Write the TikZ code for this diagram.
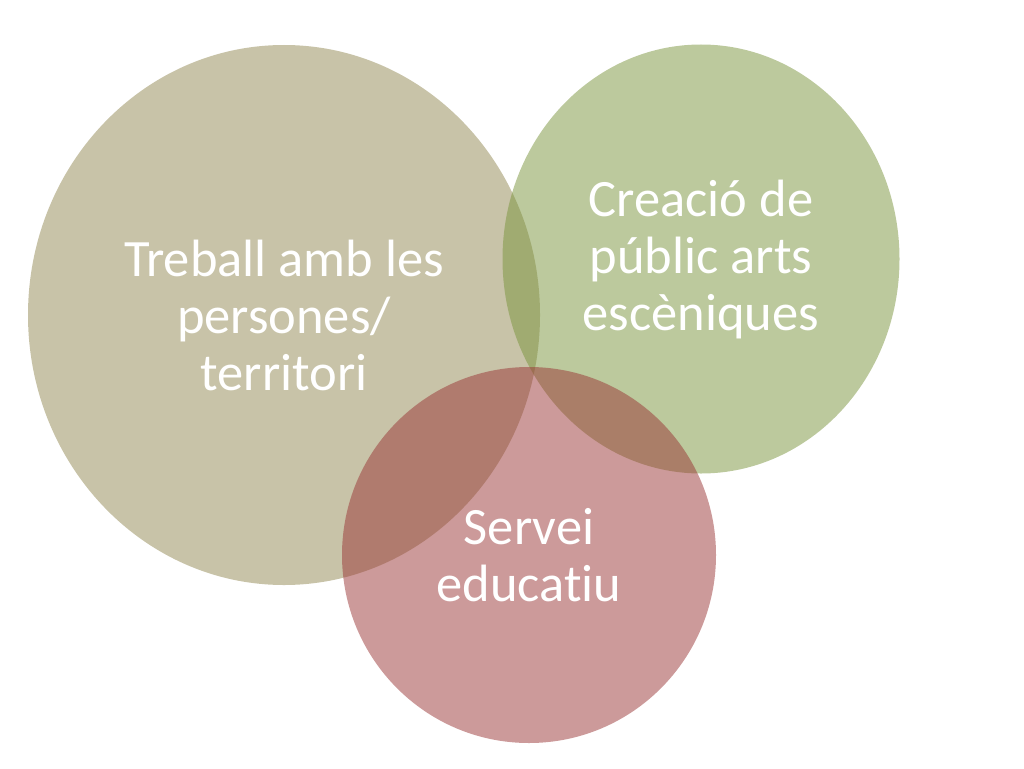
\documentclass[tikz,border=0pt]{standalone}
\usepackage{fontspec}
\setmainfont[Ligatures={NoCommon}]{Carlito}
\usepackage{tikz}
\usetikzlibrary{positioning,shapes.geometric}

\definecolor{tanfill}{RGB}{145,135,81}
\definecolor{greenfill}{RGB}{121,147,59}
\definecolor{pinkfill}{RGB}{153,53,53}

\begin{document}
\begin{tikzpicture}[
    x=1pt, y=-1pt,
    disc/.style={ellipse, draw=none, fill opacity=0.5, text opacity=1, inner sep=0pt, align=center, text=white, font=\fontsize{52.5}{57}\selectfont}
]
\useasboundingbox (0,0) rectangle (1024,768);

% Circles
\node[disc, fill=tanfill, minimum width=512pt, minimum height=540pt] (treball) at (284,315) {Treball amb les\\persones/\\territori};
\node[disc, fill=greenfill, minimum width=397pt, minimum height=429pt] (creacio) at (701,259) {Creació de\\públic arts\\escèniques};
\node[disc, fill=pinkfill, minimum width=374pt, minimum height=376pt] (servei) at (529,555) {Servei\\educatiu};

\end{tikzpicture}
\end{document}
